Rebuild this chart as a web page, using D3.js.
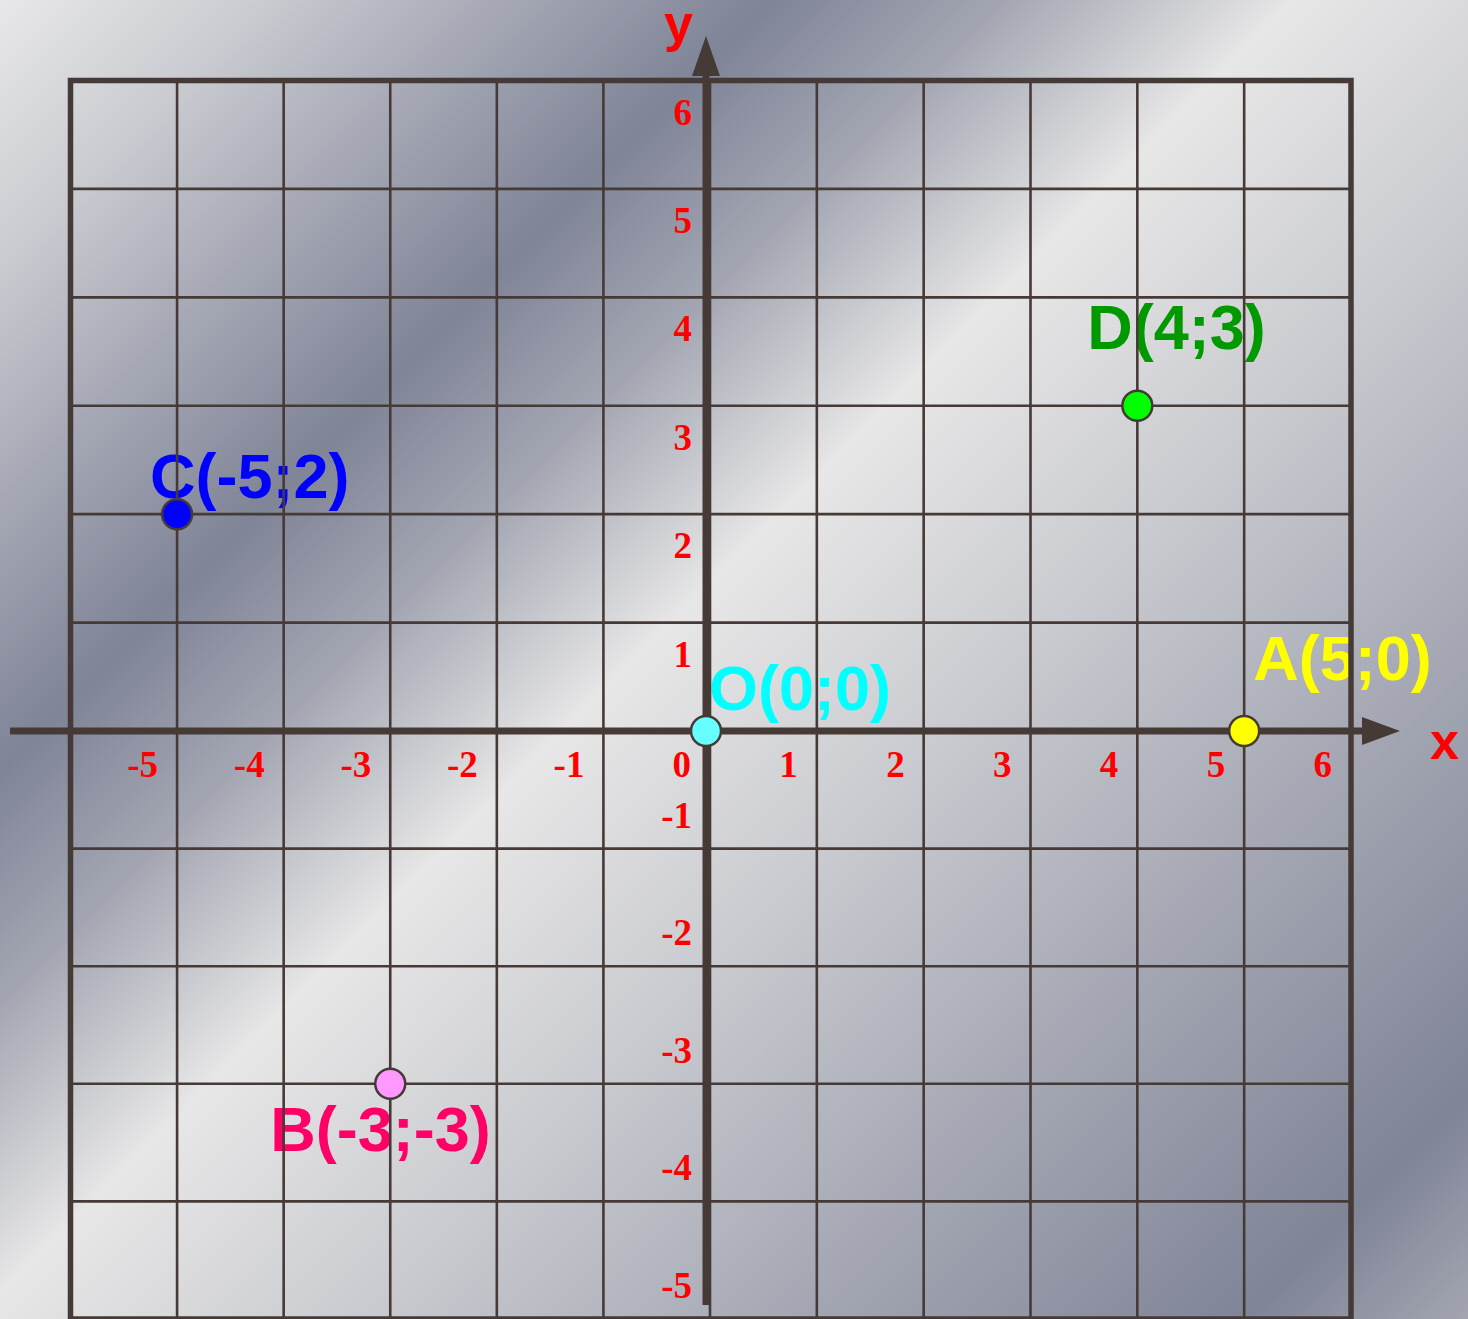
<!DOCTYPE html>
<html>
<head>
<meta charset="utf-8">
<title>Coordinate plane</title>
<script src="https://cdn.jsdelivr.net/npm/d3@7"></script>
<style>
    html, body { margin: 0; padding: 0; overflow: hidden; }
    svg { display: block; }
</style>
</head>
<body>
<div id="chart"></div>
<script>
// Points on the plane
const pointNames = ['O', 'A', 'B', 'C', 'D'];
const pointX = [0, 5, -3, -5, 4];
const pointY = [0, 0, -3, 2, 3];

// Tick labels
const xTickValues = [-5, -4, -3, -2, -1, 0, 1, 2, 3, 4, 5, 6];
const yTickValues = [6, 5, 4, 3, 2, 1, -1, -2, -3, -4, -5];

// Grid extent in units
const xExtent = [-6, 6];
const yExtent = [-5, 6];

// Colours and label offsets per point (style only)
const pointStyle = {
    O: { fill: '#66ffff', text: '#00ffff', dx: -1, dy: -21 },
    A: { fill: '#ffff00', text: '#ffff00', dx: 9, dy: -51 },
    B: { fill: '#ff99ff', text: '#ff0066', dx: -120, dy: 67 },
    C: { fill: '#0000ff', text: '#0000ff', dx: -27, dy: -16 },
    D: { fill: '#00ff00', text: '#009900', dx: -50, dy: -57 }
};

const width = 1468;
const height = 1319;
const lineColor = '#463a37';
const tickColor = '#ff0000';

const points = pointNames.map((name, i) => ({ name: name, x: pointX[i], y: pointY[i] }));

const svg = d3.select('#chart').append('svg')
    .attr('width', width)
    .attr('height', height);

// Brushed metal background
const grad = svg.append('defs').append('linearGradient')
    .attr('id', 'metal')
    .attr('gradientUnits', 'userSpaceOnUse')
    .attr('x1', 0).attr('y1', 0)
    .attr('x2', (width + height) / 2).attr('y2', (width + height) / 2);

[
    [0, '#e8e8ea'], [0.09, '#cbcdd2'], [0.18, '#a6a9b5'], [0.276, '#7f8497'],
    [0.36, '#a3a6b2'], [0.465, '#e7e7e7'], [0.6, '#cacbd0'], [0.74, '#a8abb6'],
    [0.92, '#7f8497'], [1, '#a3a6b1']
].forEach(s => {
    grad.append('stop').attr('offset', s[0]).attr('stop-color', s[1]);
});

svg.append('rect')
    .attr('width', width)
    .attr('height', height)
    .attr('fill', 'url(#metal)');

// Scales (upper half of the plane is a bit more compressed than the lower half)
const xScale = d3.scaleLinear()
    .domain([xExtent[0], 0, xExtent[1]])
    .range([70.5, 710, 1351]);

const yScale = d3.scaleLinear()
    .domain([yExtent[0], 0, yExtent[1]])
    .range([1319, 731, 80.5]);

// Point labels sit under the grid lines
svg.append('g')
    .selectAll('text')
    .data(points)
    .enter()
    .append('text')
    .attr('x', d => xScale(d.x) + pointStyle[d.name].dx)
    .attr('y', d => yScale(d.y) + pointStyle[d.name].dy)
    .attr('font-family', '"Liberation Sans", Arial, sans-serif')
    .attr('font-weight', 'bold')
    .attr('font-size', '63px')
    .attr('fill', d => pointStyle[d.name].text)
    .text(d => `${d.name}(${d.x};${d.y})`);

// Grid
const grid = svg.append('g')
    .attr('stroke', lineColor)
    .attr('stroke-width', 2.6);

grid.selectAll('.vline')
    .data(d3.range(xExtent[0] + 1, xExtent[1]))
    .enter()
    .append('line')
    .attr('x1', d => xScale(d))
    .attr('x2', d => xScale(d))
    .attr('y1', yScale(yExtent[1]))
    .attr('y2', yScale(yExtent[0]));

grid.selectAll('.hline')
    .data(d3.range(yExtent[0] + 1, yExtent[1]))
    .enter()
    .append('line')
    .attr('y1', d => yScale(d))
    .attr('y2', d => yScale(d))
    .attr('x1', xScale(xExtent[0]))
    .attr('x2', xScale(xExtent[1]));

// Outer frame
svg.append('rect')
    .attr('x', xScale(xExtent[0]))
    .attr('y', yScale(yExtent[1]))
    .attr('width', xScale(xExtent[1]) - xScale(xExtent[0]))
    .attr('height', yScale(yExtent[0]) - yScale(yExtent[1]))
    .attr('fill', 'none')
    .attr('stroke', lineColor)
    .attr('stroke-width', 5.5);

// Axes with arrows
const x0 = xScale(0) - 4;
const y0 = yScale(0);

svg.append('line')
    .attr('x1', 10).attr('x2', 1366)
    .attr('y1', y0).attr('y2', y0)
    .attr('stroke', lineColor)
    .attr('stroke-width', 7);

svg.append('path')
    .attr('d', `M1362,${y0 - 14}L1400,${y0}L1362,${y0 + 14}Z`)
    .attr('fill', lineColor);

svg.append('line')
    .attr('x1', x0).attr('x2', x0)
    .attr('y1', 1305).attr('y2', 72)
    .attr('stroke', lineColor)
    .attr('stroke-width', 7);

svg.append('path')
    .attr('d', `M${x0 - 14},76L${x0},36L${x0 + 14},76Z`)
    .attr('fill', lineColor);

svg.append('text')
    .attr('x', 1430)
    .attr('y', 759)
    .attr('font-family', '"Liberation Sans", Arial, sans-serif')
    .attr('font-weight', 'bold')
    .attr('font-size', '52px')
    .attr('fill', tickColor)
    .text('x');

svg.append('text')
    .attr('x', 664)
    .attr('y', 41)
    .attr('font-family', '"Liberation Sans", Arial, sans-serif')
    .attr('font-weight', 'bold')
    .attr('font-size', '52px')
    .attr('fill', tickColor)
    .text('y');

// Tick labels
const ticks = svg.append('g')
    .attr('font-family', '"Liberation Serif", "Times New Roman", serif')
    .attr('font-weight', 'bold')
    .attr('font-size', '37px')
    .attr('fill', tickColor)
    .attr('text-anchor', 'end');

ticks.selectAll('.xtick')
    .data(xTickValues)
    .enter()
    .append('text')
    .attr('x', d => xScale(d) - 19)
    .attr('y', y0 + 46)
    .text(d => d);

ticks.selectAll('.ytick')
    .data(yTickValues)
    .enter()
    .append('text')
    .attr('x', xScale(0) - 18)
    .attr('y', d => d > 0 ? yScale(d) + 44 : yScale(d) - 21)
    .text(d => d);

// Points
svg.append('g')
    .selectAll('circle')
    .data(points)
    .enter()
    .append('circle')
    .attr('cx', d => d.x === 0 ? x0 : xScale(d.x))
    .attr('cy', d => yScale(d.y))
    .attr('r', 15)
    .attr('fill', d => pointStyle[d.name].fill)
    .attr('stroke', lineColor)
    .attr('stroke-width', 2.5);
</script>
</body>
</html>
